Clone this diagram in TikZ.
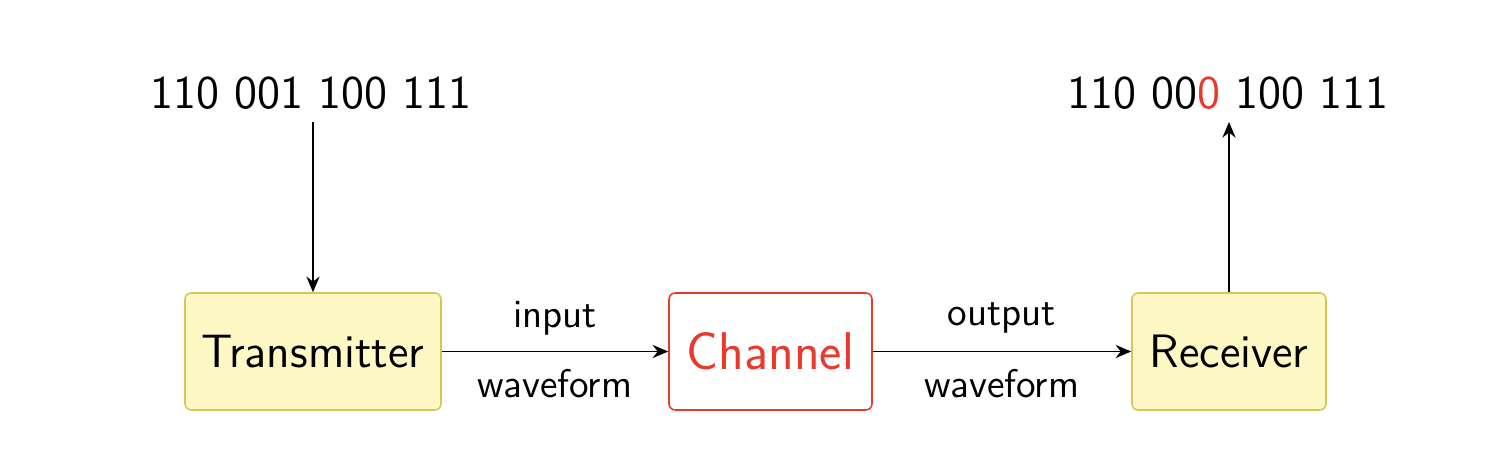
\documentclass[tikz,border=0pt]{standalone}
\usetikzlibrary{arrows.meta}
\definecolor{boxyellow}{HTML}{FEF8C4}
\definecolor{boxolive}{HTML}{D4C75A}
\definecolor{chred}{HTML}{E8392A}
\begin{document}
\begin{tikzpicture}[x=0.32pt,y=-0.32pt,
  font=\sffamily,
  block/.style={draw=boxolive, fill=boxyellow, rounded corners=2pt, line width=0.5pt, inner sep=0pt, font=\sffamily\fontsize{15}{18}\selectfont},
  chblock/.style={draw=chred, fill=white, text=chred, rounded corners=2pt, line width=0.5pt, inner sep=0pt, font=\sffamily\fontsize{17}{20}\selectfont},
  bits/.style={font=\sffamily\fontsize{15}{18}\selectfont, inner sep=0pt},
  lbl/.style={font=\sffamily\fontsize{12.8}{15}\selectfont, inner sep=0pt},
  conn/.style={-{Stealth[length=5pt,width=4.2pt]}, line width=0.62pt}
]
\useasboundingbox (0,0) rectangle (1490,470);
\node[block, minimum width=256*0.32pt, minimum height=117*0.32pt] (tx) at (313,351.5) {Transmitter};
\node[chblock, minimum width=203*0.32pt, minimum height=117*0.32pt] (ch) at (770.5,351.5) {Channel};
\node[block, minimum width=194*0.32pt, minimum height=117*0.32pt] (rx) at (1229,351.5) {Receiver};
\node[bits] (inbits) at (311,93) {110 001 100 111};
\node[bits] (outbits) at (1228,93) {110 00\textcolor{chred}{0} 100 111};
\coordinate (instart) at (313,122);
\coordinate (outend) at (1229,122);
\draw[conn] (instart) -- (tx.north);
\draw[conn] (rx.north) -- (outend);
\draw[conn] (tx.east) -- (ch.west);
\draw[conn] (ch.east) -- (rx.west);
\node[lbl] (in1) at (555,318) {input};
\node[lbl] (in2) at (555,384) {waveform};
\node[lbl] (out1) at (1002,318) {output};
\node[lbl] (out2) at (1002,384) {waveform};
\end{tikzpicture}
\end{document}
